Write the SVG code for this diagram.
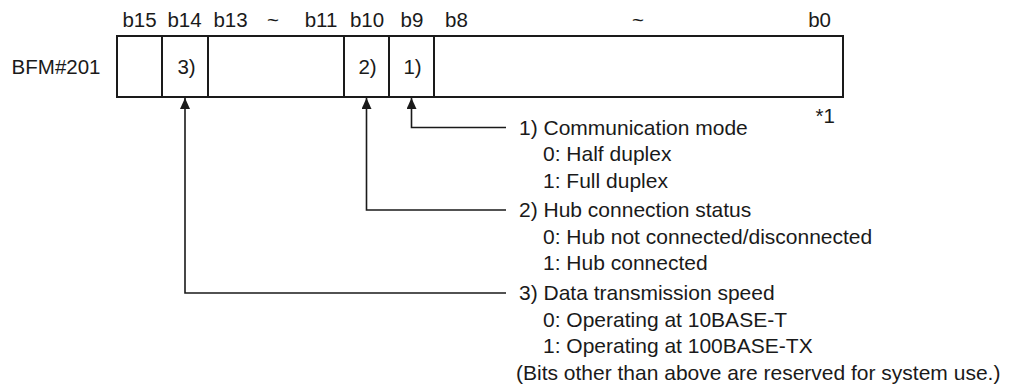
<svg xmlns="http://www.w3.org/2000/svg" width="1018" height="389" viewBox="0 0 1018 389">
<style>
text { font-family: "Liberation Sans", Arial, sans-serif; font-size: 20.5px; fill: #1a1a1a; }
.desc text { font-size: 21px; }
.mid { text-anchor: middle; }
.end { text-anchor: end; }
.box { fill: #ffffff; stroke: #1a1a1a; stroke-width: 2; }
.div { stroke: #1a1a1a; stroke-width: 2; fill: none; }
.conn { stroke: #1a1a1a; stroke-width: 1.6; fill: none; marker-start: url(#arr); }
</style>
<defs>
<marker id="arr" markerUnits="userSpaceOnUse" viewBox="0 0 11 10" refX="11" refY="5" markerWidth="11" markerHeight="10" orient="auto-start-reverse">
<path d="M0,0 L11,5 L0,10 z" fill="#1a1a1a"/>
</marker>
</defs>
<rect width="1018" height="389" fill="#ffffff"/>
<g id="bit-labels">
<text class="mid" x="139.5" y="27">b15</text>
<text class="mid" x="184.5" y="27">b14</text>
<text class="mid" x="230.5" y="27">b13</text>
<text class="mid" x="273" y="27">~</text>
<text class="mid" x="321" y="27">b11</text>
<text class="mid" x="367" y="27">b10</text>
<text class="mid" x="412" y="27">b9</text>
<text x="445" y="27">b8</text>
<text class="mid" x="638" y="27">~</text>
<text class="end" x="831" y="27">b0</text>
</g>
<g id="register">
<text class="end" x="100.5" y="74">BFM#201</text>
<rect class="box" x="117" y="36" width="726" height="61"/>
<path class="div" d="M162,36 V97 M208,36 V97 M344,36 V97 M389,36 V97 M434,36 V97"/>
<text class="mid" x="186.5" y="74">3)</text>
<text class="mid" x="367.5" y="74">2)</text>
<text class="mid" x="412.5" y="74">1)</text>
<text class="end" x="835" y="123">*1</text>
</g>
<g id="connectors">
<path class="conn" d="M411.5,98 V127.5 H506"/>
<path class="conn" d="M366.5,98 V210 H506"/>
<path class="conn" d="M185,98 V293 H506"/>
</g>
<g id="desc-1" class="desc">
<text x="519" y="134.5">1) Communication mode</text>
<text x="543" y="161">0: Half duplex</text>
<text x="543" y="187.5">1: Full duplex</text>
</g>
<g id="desc-2" class="desc">
<text x="519" y="217">2) Hub connection status</text>
<text x="543" y="243.5">0: Hub not connected/disconnected</text>
<text x="543" y="270">1: Hub connected</text>
</g>
<g id="desc-3" class="desc">
<text x="519" y="300">3) Data transmission speed</text>
<text x="543" y="326.5">0: Operating at 10BASE-T</text>
<text x="543" y="353">1: Operating at 100BASE-TX</text>
</g>
<g id="note" class="desc">
<text x="516" y="379.5">(Bits other than above are reserved for system use.)</text>
</g>
</svg>
